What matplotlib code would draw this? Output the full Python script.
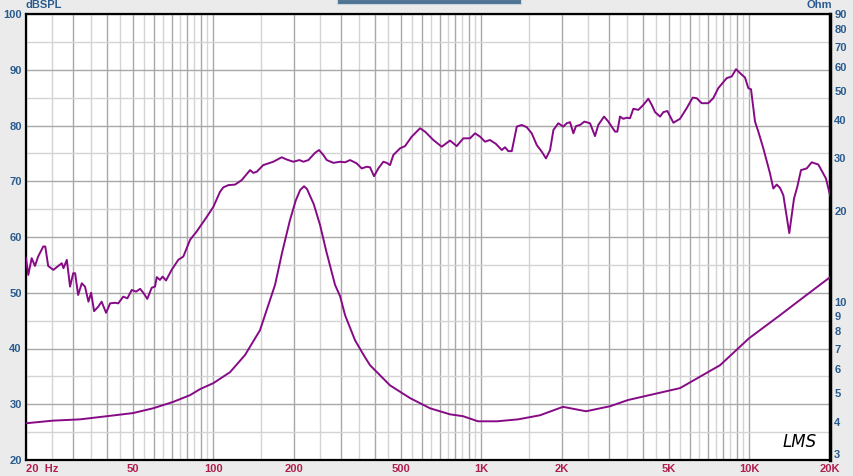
import matplotlib
matplotlib.use("Agg")
import matplotlib.pyplot as plt
from matplotlib.patches import FancyBboxPatch
from matplotlib.ticker import FixedLocator, FuncFormatter, NullLocator, NullFormatter

# SPL response (Hz, dBSPL)
SPL_FREQ = [20, 20.4, 21.0, 21.6, 22.2, 23.2, 23.6, 24.2, 25.3, 26.4, 27.2, 27.6,
            28.4, 29.2, 30.0, 30.5, 31.3, 32.3, 33.2, 34.2, 35.0, 35.9, 37.2, 38.3,
            39.8, 41.2, 43.0, 44.2, 46.1, 47.8, 49.6, 51.5, 53.3, 54.8, 56.7, 58.9,
            60.6, 61.5, 63.2, 64.7, 66.6, 69.9, 74.0, 77.3, 81.9, 86.7, 94.5, 100.0,
            105.9, 108.9, 113.7, 120.5, 127.6, 137.1, 141.0, 145.2, 153.6, 160.3,
            167.4, 179.9, 187.8, 198.8, 209.5, 216.8, 226.3, 239.7, 248.0, 257.4,
            265.0, 280.6, 297.2, 310.2, 323.9, 342.8, 357.9, 373.6, 384.4, 397.9,
            412.8, 430.9, 443.6, 456.4, 469.5, 497.3, 519.1, 549.9, 590.5, 616.5,
            662.1, 711.5, 764.2, 809.5, 856.7, 907.5, 947.5, 988.9, 1032, 1077,
            1134, 1192, 1226, 1261, 1299, 1356, 1415, 1477, 1542, 1610, 1681, 1743,
            1805, 1858, 1937, 2023, 2082, 2143, 2205, 2256, 2336, 2424, 2545, 2655,
            2732, 2870, 2978, 3155, 3217, 3292, 3387, 3488, 3588, 3691, 3853, 4023,
            4199, 4324, 4449, 4645, 4779, 4945, 5207, 5512, 5838, 6146, 6362, 6641,
            7025, 7334, 7658, 8235, 8597, 8922, 9233, 9637, 9914, 10147, 10501,
            10804, 11278, 11946, 12290, 12655, 13019, 13393, 14097, 14680, 15101,
            15588, 16373, 17092, 18089, 19316, 20000]
SPL_DB = [56.2, 53.2, 56.2, 54.8, 56.5, 58.3, 58.3, 54.8, 54.1, 54.8, 55.3, 54.4,
          55.9, 51.1, 53.5, 53.5, 49.6, 51.7, 51.1, 48.4, 50.0, 46.7, 47.5, 48.4,
          46.4, 48.1, 48.2, 48.1, 49.3, 49.0, 50.5, 50.2, 50.7, 50.0, 48.9, 50.9,
          51.1, 52.8, 52.3, 52.9, 52.2, 54.1, 55.9, 56.5, 59.5, 61.0, 63.6, 65.4,
          68.1, 68.9, 69.3, 69.4, 70.2, 72.0, 71.5, 71.7, 72.9, 73.2,
          73.5, 74.3, 73.9, 73.5, 73.8, 73.5, 73.8, 75.1, 75.6, 74.7,
          73.8, 73.3, 73.5, 73.4, 73.8, 73.2, 72.3, 72.6, 72.5, 70.9,
          72.3, 73.5, 73.3, 72.9, 74.7, 75.9, 76.3, 78.0, 79.5, 78.9,
          77.4, 76.2, 77.3, 76.3, 77.7, 77.7, 78.6, 78.0, 77.1, 77.4,
          76.7, 75.6, 76.1, 75.4, 75.4, 79.8, 80.1, 79.7, 78.6, 76.5, 75.3, 74.1,
          75.6, 79.2, 80.4, 79.8, 80.4, 80.6, 78.6, 79.9, 80.1, 80.7, 80.4, 78.1,
          80.1, 81.6, 80.7, 78.9, 78.9, 81.6, 81.2, 81.4, 81.3, 83.0, 82.8, 83.7,
          84.8, 83.7, 82.4, 81.6, 82.4, 82.6, 80.5, 81.2, 83.1, 85.0, 84.9, 84.0,
          84.0, 84.9, 86.7, 88.5, 88.8, 90.1, 89.4, 88.6, 86.7, 86.5, 80.7,
          78.9, 75.9, 71.4, 68.7, 69.4, 68.8, 67.5, 60.7, 66.9, 69.0,
          72.0, 72.3, 73.4, 73.0, 70.5, 67.5]

# Impedance (Hz, Ohm)
IMP_FREQ = [20, 25.2, 31.8, 40.1, 50.1, 59.6, 70.7, 81.9, 89.2, 100, 115.4, 131.3,
            149.3, 169.9, 180.6, 193.2, 203.0, 210.8, 218.0, 223.6, 237.0, 250.2,
            263.6, 284.6, 297.2, 310.2, 337.8, 363.8, 384.4, 456.4, 542, 643.7,
            764.2, 854.6, 972, 1145, 1371, 1656, 2017, 2459, 3021, 3527, 5512,
            7775, 9974, 13019, 15458, 20000]
IMP_OHM = [3.97, 4.05, 4.09, 4.19, 4.29, 4.45, 4.67, 4.92, 5.15, 5.39, 5.86, 6.68,
           8.07, 11.40, 14.6, 18.7, 21.7, 23.5, 24.2, 23.7, 21.1, 18.0,
           14.8, 11.40, 10.46, 9.05, 7.48, 6.68, 6.18, 5.30, 4.81, 4.45,
           4.25, 4.19, 4.03, 4.03, 4.09, 4.22, 4.50, 4.35, 4.52, 4.74, 5.19,
           6.18, 7.59, 9.05, 10.17, 12.09]

X_TICKS = [20, 50, 100, 200, 500, 1000, 2000, 5000, 10000, 20000]
X_LABELS = ["", "50", "100", "200", "500", "1K", "2K", "5K", "10K", "20K"]
DB_TICKS = [20, 30, 40, 50, 60, 70, 80, 90, 100]
OHM_TICKS = [3, 4, 5, 6, 7, 8, 9, 10, 20, 30, 40, 50, 60, 70, 80, 90]

BG = "#ebebeb"
CURVE = "#860a86"
BLUE_TXT = "#2a5b8e"
RED_TXT = "#b0204e"
GRID_MAJ = "#a8a8a8"
GRID_MIN = "#d4d4d4"

plt.rcParams.update({
    "font.family": ["Liberation Sans", "DejaVu Sans"],
    "font.size": 7.5,
    "font.weight": "bold",
})

fig = plt.figure(figsize=(8.54, 4.76), dpi=100, facecolor=BG)
ax = fig.add_axes([26 / 854, 16 / 476, 804 / 854, 446 / 476])
ax.set_facecolor("white")
ax.set_xscale("log")
ax.set_xlim(20, 20000)
ax.set_ylim(20, 100)

# vertical grid: integer multiples darker, half steps lighter
major_x = [k * 10 ** d for d in range(1, 5) for k in range(1, 10) if 20 <= k * 10 ** d <= 20000]
minor_x = [(k + 0.5) * 10 ** d for d in range(1, 4) for k in range(1, 10) if 20 < (k + 0.5) * 10 ** d < 20000]
ax.xaxis.set_major_locator(FixedLocator(major_x))
ax.xaxis.set_minor_locator(FixedLocator(minor_x))
lbl = dict(zip(X_TICKS, X_LABELS))
ax.xaxis.set_major_formatter(FuncFormatter(lambda v, p: lbl.get(int(round(v)), "")))
ax.xaxis.set_minor_formatter(NullFormatter())
ax.set_yticks(DB_TICKS)
ax.set_yticks(list(range(25, 100, 10)), minor=True)
ax.grid(which="major", color=GRID_MAJ, lw=1.0)
ax.grid(which="minor", color=GRID_MIN, lw=1.0)
ax.set_axisbelow(True)
ax.tick_params(which="both", length=0)
ax.tick_params(axis="x", pad=3, labelcolor=RED_TXT, labelsize=8)
ax.tick_params(axis="y", pad=3, labelcolor=BLUE_TXT, labelsize=8)
ax.text(20, 19.2, "20  Hz", transform=ax.transData, ha="left", va="top",
        color=RED_TXT, fontsize=8, fontweight="bold", clip_on=False)

for s in ax.spines.values():
    s.set_color("black")
    s.set_linewidth(1.6)
ax.spines["right"].set_linewidth(2.5)

ax.plot(SPL_FREQ, SPL_DB, color=CURVE, lw=1.4, zorder=4)

ax2 = ax.twinx()
ax2.set_yscale("log")
ax2.set_ylim(3, 90)
ax2.yaxis.set_major_locator(FixedLocator(OHM_TICKS))
ax2.yaxis.set_major_formatter(FuncFormatter(lambda v, p: f"{v:g}"))
ax2.yaxis.set_minor_locator(NullLocator())
ax2.tick_params(length=0, pad=3, labelcolor=BLUE_TXT, labelsize=8)
ax2.plot(IMP_FREQ, IMP_OHM, color=CURVE, lw=1.4, zorder=4)
for s in ax2.spines.values():
    s.set_visible(False)
fig.canvas.draw()
# lift the bottom ohm label a little so it clears the 20K label
ax2.get_yticklabels()[0].set_verticalalignment("bottom")

fig.text(26 / 854, 1 - 5 / 476, "dBSPL", color=BLUE_TXT, fontsize=8,
         fontweight="bold", ha="left", va="center")
fig.text(832 / 854, 1 - 5 / 476, "Ohm", color=BLUE_TXT, fontsize=8,
         fontweight="bold", ha="right", va="center")
ax.text(0.983, 0.04, "LMS", transform=ax.transAxes, ha="right", va="center",
        fontsize=12, fontstyle="italic", fontweight="normal", color="black",
        family="DejaVu Sans")

# tab bar at the top edge
fig.patches.append(FancyBboxPatch((337 / 854, 1 - 4 / 476), 184 / 854, 5 / 476,
                                  boxstyle="square,pad=0", transform=fig.transFigure,
                                  facecolor="#4f7392", edgecolor="#c8d4de", lw=0.8))

fig.savefig("out.png", dpi=100, facecolor=BG)
